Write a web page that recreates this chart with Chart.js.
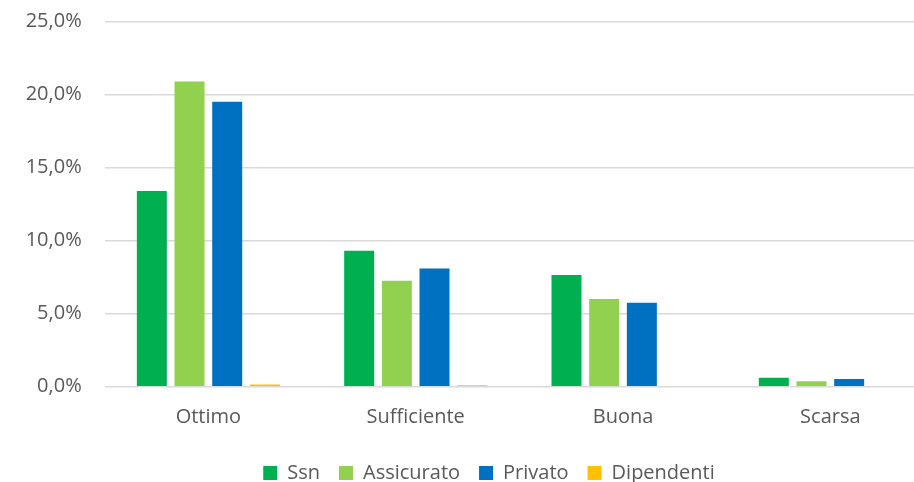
<!DOCTYPE html>
<html>
<head>
<meta charset="utf-8">
<script src="https://cdn.jsdelivr.net/npm/chart.js@4/dist/chart.umd.min.js"></script>
<style>
html,body{margin:0;padding:0;background:#fff;overflow:hidden;}
#wrap{width:914px;height:482px;overflow:hidden;position:relative;}
canvas{display:block;}
</style>
</head>
<body>
<div id="wrap"><canvas id="c" width="978" height="493"></canvas></div>
<script>
const categories = ["Ottimo", "Sufficiente", "Buona", "Scarsa"];
const ssn = [13.4, 9.3, 7.65, 0.62];
const assicurato = [20.9, 7.25, 6.0, 0.37];
const privato = [19.5, 8.1, 5.75, 0.52];
const dipendenti = [0.15, 0.1, 0, 0];
const seriesNames = ["Ssn", "Assicurato", "Privato", "Dipendenti"];
const yTicks = [0, 5, 10, 15, 20, 25];

const colors = ["#00B050", "#92D050", "#0070C0", "#FFC000"];
const font = { family: "'Open Sans', sans-serif", size: 20 };
const textColor = "#595959";

const seriesData = [ssn, assicurato, privato, dipendenti];
new Chart(document.getElementById('c'), {
  type: 'bar',
  data: {
    labels: categories,
    datasets: seriesData.map((d, i) => ({
      label: seriesNames[i],
      data: d,
      backgroundColor: colors[i],
      borderWidth: 0,
      categoryPercentage: 0.727,
      barPercentage: 0.796
    }))
  },
  options: {
    responsive: false,
    animation: false,
    layout: { padding: { top: 21.5, right: 0, left: 0, bottom: 0 } },
    plugins: {
      tooltip: { enabled: false },
      legend: {
        position: 'bottom',
        labels: {
          font: font, color: textColor,
          boxWidth: 14, boxHeight: 14, padding: 19
        }
      }
    },
    scales: {
      x: {
        grid: { display: false },
        border: { display: false },
        ticks: { font: font, color: textColor, padding: 11, maxRotation: 0 },
        afterFit: s => { s.height = 57.3; }
      },
      y: {
        min: 0, max: 25,
        afterBuildTicks: s => { s.ticks = yTicks.map(v => ({ value: v })); },
        grid: { color: "#d9d9d9", lineWidth: 1.5, drawTicks: false },
        border: { display: false },
        ticks: {
          font: font, color: textColor, padding: 23,
          callback: v => v.toFixed(1).replace('.', ',') + '%'
        },
        afterFit: s => { s.width = 104.7; s.paddingTop = 0; s.paddingBottom = 0; }
      },
      yRight: {
        position: 'right',
        min: 0, max: 25,
        grid: { display: false, drawTicks: false },
        border: { display: false },
        ticks: { display: false },
        afterFit: s => { s.width = 44; s.paddingTop = 0; s.paddingBottom = 0; }
      }
    }
  }
});
</script>
</body>
</html>
